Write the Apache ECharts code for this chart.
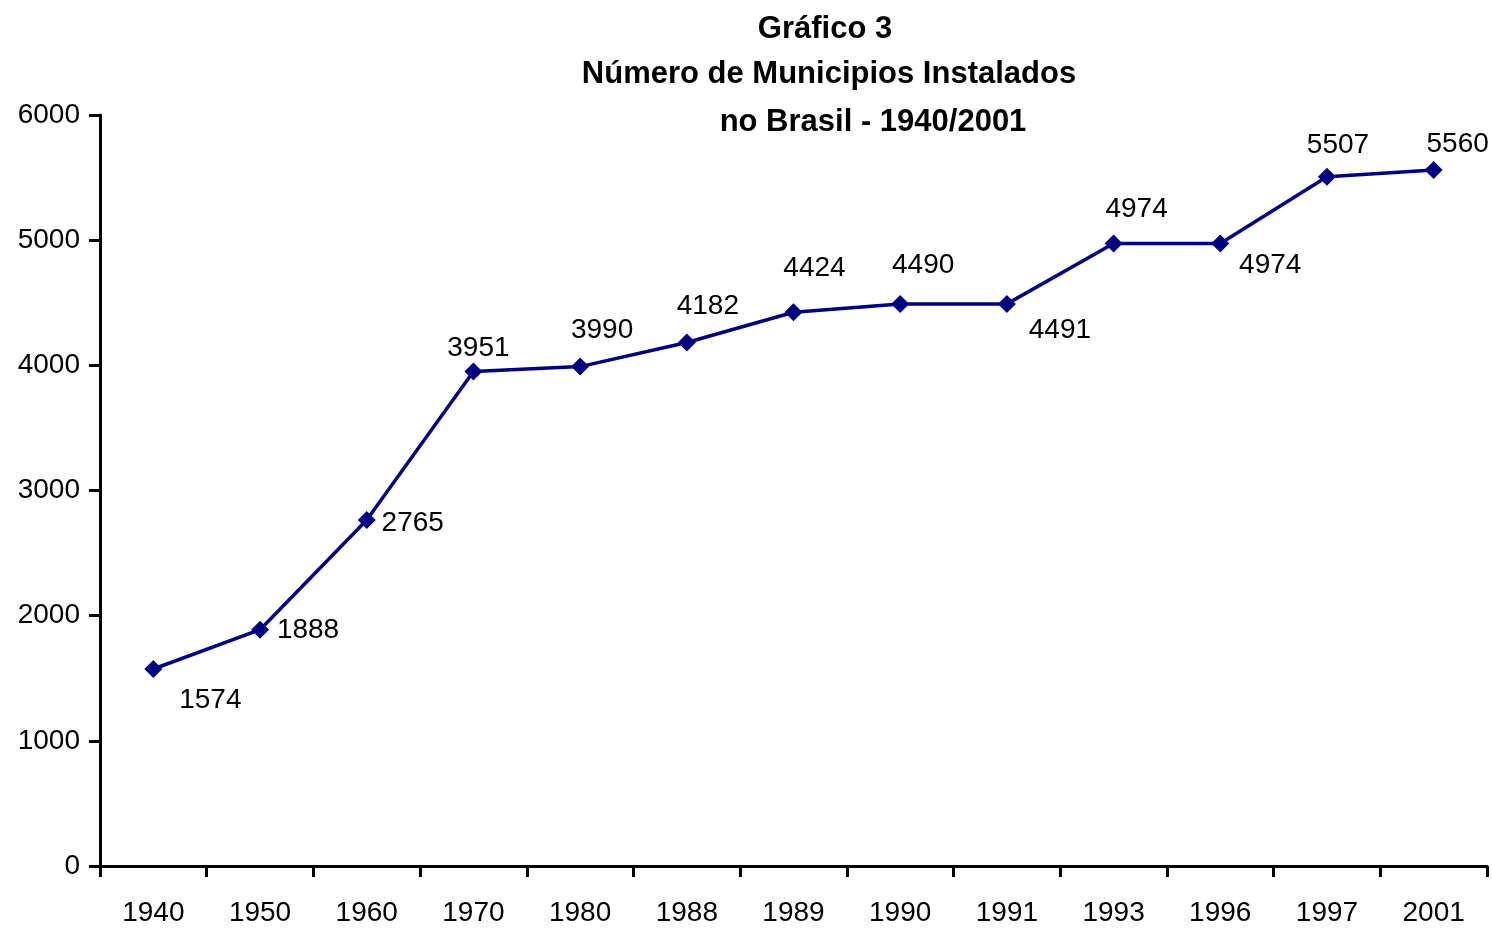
<!DOCTYPE html>
<html>
<head>
<meta charset="utf-8">
<script src="https://cdn.jsdelivr.net/npm/echarts@6/dist/echarts.min.js"></script>
<style>
  html, body { margin: 0; padding: 0; background: #fff; }
  #chart { width: 1492px; height: 930px; }
</style>
</head>
<body>
<div id="chart"></div>
<script>
// dados
var anos = ['1940', '1950', '1960', '1970', '1980', '1988', '1989', '1990', '1991', '1993', '1996', '1997', '2001'];
var municipios = [1574, 1888, 2765, 3951, 3990, 4182, 4424, 4490, 4491, 4974, 4974, 5507, 5560];
var yTicks = [0, 1000, 2000, 3000, 4000, 5000, 6000];

// deslocamento dos rótulos em relação ao ponto
var labelOffsets = [
    [57, 31], [48, 1], [46, 3], [5, -23], [22, -36], [21, -36], [21, -44],
    [23, -39], [53, 26], [23, -34], [50, 22], [11, -31], [24, -26]
];

var chart = echarts.init(document.getElementById('chart'));
var fonte = '"Liberation Sans", Arial, sans-serif';
var titulo = { fontFamily: fonte, fontSize: 31, fontWeight: 'bold', color: '#000' };

var option = {
    backgroundColor: '#fff',
    animation: false,
    title: [
        { text: 'Gráfico 3', left: 820, top: 9, textAlign: 'center', textStyle: titulo },
        { text: 'Número de Municipios Instalados', left: 824, top: 54, textAlign: 'center', textStyle: titulo },
        { text: 'no Brasil - 1940/2001', left: 868, top: 102, textAlign: 'center', textStyle: titulo }
    ],
    grid: { left: 100, right: 5, top: 115, bottom: 64 },
    xAxis: {
        type: 'category',
        data: anos,
        boundaryGap: true,
        axisLine: { lineStyle: { color: '#000', width: 3 } },
        axisTick: { show: true, length: 11, lineStyle: { color: '#000', width: 3 } },
        axisLabel: { margin: 33, fontFamily: fonte, fontSize: 28, color: '#000' },
        splitLine: { show: false }
    },
    yAxis: {
        type: 'value',
        min: yTicks[0],
        max: yTicks[yTicks.length - 1],
        interval: 1000,
        axisLine: { show: true, lineStyle: { color: '#000', width: 3 } },
        axisTick: { show: true, length: 11, lineStyle: { color: '#000', width: 3 } },
        axisLabel: {
            margin: 20, fontFamily: fonte, fontSize: 28, color: '#000',
            formatter: function (v) { return String(v); }
        },
        splitLine: { show: false }
    },
    series: [{
        type: 'line',
        data: municipios.map(function (v, i) {
            return {
                value: v,
                label: { offset: labelOffsets[i] }
            };
        }),
        symbol: 'diamond',
        symbolSize: 18,
        lineStyle: { color: '#000080', width: 3.5 },
        itemStyle: { color: '#000080' },
        label: {
            show: true,
            position: 'inside',
            fontFamily: fonte,
            fontSize: 28,
            color: '#000'
        }
    }]
};
chart.setOption(option);
</script>
</body>
</html>
